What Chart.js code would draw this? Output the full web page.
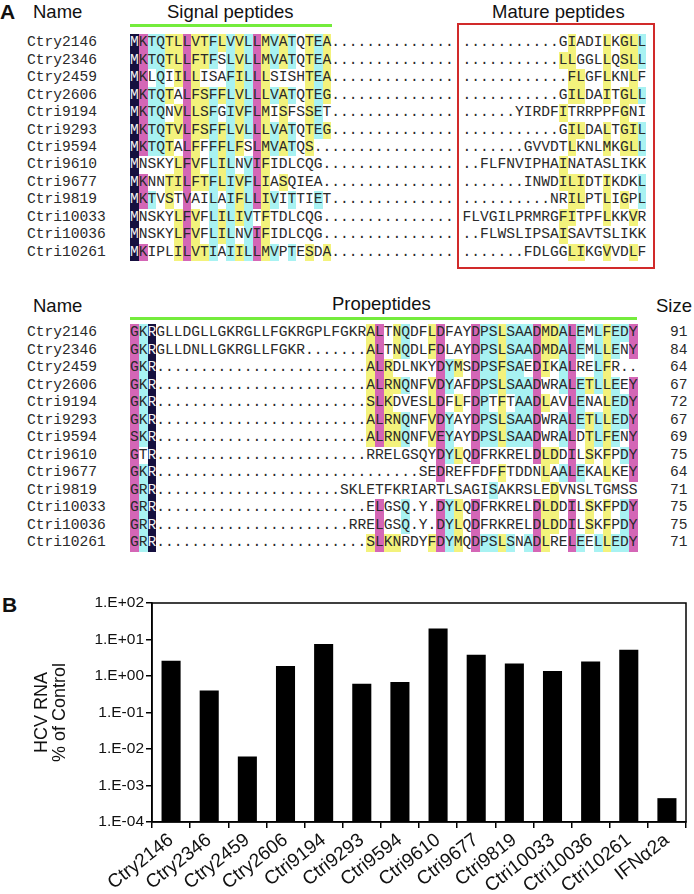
<!DOCTYPE html>
<html>
<head>
<meta charset="utf-8">
<script src="https://cdn.jsdelivr.net/npm/chart.js@4.4.1/dist/chart.umd.min.js"></script>
<style>
html, body { margin: 0; padding: 0; background: #fff; }
#page { position: relative; width: 694px; height: 894px; overflow: hidden; font-family: "Liberation Sans", Arial, sans-serif; color: #111; }
.lbl { position: absolute; font-size: 18.5px; line-height: 1; white-space: nowrap; }
.panel { position: absolute; font-size: 21px; font-weight: bold; line-height: 1; }
.mono { position: absolute; font-family: "Liberation Mono", monospace; font-size: 14.6px; line-height: 17.5px; height: 17.5px; color: #2a2a2a; white-space: nowrap; }
.cell { position: absolute; top: 0; width: 8.75px; height: 17.5px; text-align: center; }
.bar { position: absolute; height: 3px; background: #74ec3c; }
#box { position: absolute; left: 457px; top: 23px; width: 194px; height: 242px; border: 2.5px solid #d12a2a; }
#chartB { position: absolute; left: 0; top: 560px; }
</style>
</head>
<body>
<div id="page">
  <div class="panel" style="left:0px;top:1px;">A</div>
  <div class="lbl" style="left:33px;top:3px;">Name</div>
  <div class="lbl" style="left:167px;top:3px;">Signal peptides</div>
  <div class="lbl" style="left:492px;top:3px;">Mature peptides</div>
  <div class="bar" style="left:130px;top:24px;width:202px;"></div>
  <div id="box"></div>

  <div class="lbl" style="left:33px;top:297px;">Name</div>
  <div class="lbl" style="left:332px;top:295px;">Propeptides</div>
  <div class="lbl" style="left:656px;top:297px;">Size</div>
  <div class="bar" style="left:130px;top:317px;width:507px;"></div>

  <div class="panel" style="left:2px;top:594px;">B</div>
  <canvas id="chartB" width="694" height="334"></canvas>
</div>
<script>
// ---- panel A: alignment ----
const seqNames = ['Ctry2146', 'Ctry2346', 'Ctry2459', 'Ctry2606', 'Ctri9194', 'Ctri9293', 'Ctri9594',
  'Ctri9610', 'Ctri9677', 'Ctri9819', 'Ctri10033', 'Ctri10036', 'Ctri10261'];
const signalSeqs = [
  'MKTQTLLVTFLVVLLMVATQTEA',
  'MKTQTLLFTFSLVLLMVATQTEA',
  'MKLQIILLISAFILLLSISHTEA',
  'MKTQTALFSFFLVLLLVATQTEG',
  'MKTQNVLLSFGIVFLMISFSSET',
  'MKTQTVLFSFFLVLLLVATQTEG',
  'MKTQTALFFFFLFSLMVATQS',
  'MNSKYLFVFLILNVIFIDLCQG',
  'MKNNTILFTFLIVFLIASQIEA',
  'MKTVSTVAILAIFLLIVITTIET',
  'MNSKYLFVFLILIVTFTDLCQG',
  'MNSKYLFVFLILNVIFIDLCQG',
  'MKIPLILVTIAIILLMVPTESDA'
];
const matureSeqs = [
  '...........GIADILKGLL',
  '...........LLGGLLQSLL',
  '............FLGFLKNLF',
  '...........GILDAITGLL',
  '......YIRDFITRRPPFGNI',
  '...........GILDALTGIL',
  '.......GVVDTLKNLMKGLL',
  '..FLFNVIPHAINATASLIKK',
  '.......INWDILIDTIKDKL',
  '..........NRILPTLIGPL',
  'FLVGILPRMRGFITPFLKKVR',
  '..FLWSLIPSAISAVTSLIKK',
  '.......FDLGGLIKGVVDLF'
];
const propepHeads = ['GKR', 'GKR', 'GKR', 'GKR', 'GKR', 'GKR', 'SKR', 'GTR', 'GKR', 'GRR', 'GRR', 'GRR', 'GRR'];
const propepTails = [
  'GLLDGLLGKRGLLFGKRGPLFGKRALTNQDFLDFAYDPSLSAADMDALEMLFEDY',
  'GLLDNLLGKRGLLFGKR.......ALTNQDLFDLAYDPSLSAADMDALEMLLENY',
  'ALRDLNKYDYMSDPSFSAEDIKALRELFR..',
  'ALRNQNFVDYAFDPSLSAADWRALETLLEEY',
  'SLKDVESLDFLFDPTFTAADLAVLENALEDY',
  'ALRNQNFVDYAYDPSLSAADWRALETLLEDY',
  'ALRNQNFVEYAYDPSLSAADWRALDTLFENY',
  'RRELGSQYDYLQDFRKRELDLDDILSKFPDY',
  'SEDREFFDFFTDDNLAALEKALKEY',
  'SKLETFKRIARTLSAGISAKRSLEDVNSLTGMSS',
  'ELGSQ.Y.DYLQDFRKRELDLDDILSKFPDY',
  'RRELGSQ.Y.DYLQDFRKRELDLDDILSKFPDY',
  'SLKNRDYFDYMQDPSLSNADLRELEELLEDY'
];
const sizes = [91, 84, 64, 67, 72, 67, 69, 75, 64, 71, 75, 75, 71];

const shadeColors = { navy: '#16103f', mag: '#d466b6', cyan: '#a8f2f2', yel: '#f3f27c' };
const groups = ['KR', 'DE', 'NQ', 'ST', 'ILVMF', 'YW', 'AGS'];

function groupOf(ch) {
  return groups.find(g => g.includes(ch)) || ch;
}

// conservation shading, column by column
function shadeBlock(rows) {
  const n = rows.length;
  const len = Math.max(...rows.map(r => r.length));
  const shade = rows.map(() => []);
  for (let c = 0; c < len; c++) {
    let counts = {};
    rows.forEach(r => {
      let ch = r[c];
      if (ch && /[A-Z]/.test(ch)) counts[ch] = (counts[ch] || 0) + 1;
    });
    let top = null, nId = 0;
    for (let k in counts) if (counts[k] > nId) { nId = counts[k]; top = k; }
    if (!top) continue;
    let g = groupOf(top);
    let nTopG = 0;
    for (let k in counts) if (g.includes(k)) nTopG += counts[k];
    let bestG = null, nBest = 0;
    groups.forEach(gr => {
      let s = 0;
      for (let k in counts) if (gr.includes(k)) s += counts[k];
      if (s > nBest) { nBest = s; bestG = gr; }
    });
    let level = null, set = top;
    if (nId === n) { level = 'navy'; }
    else if (nId >= 9) { level = 'mag'; if (nTopG >= 12) set = g; }
    else if (nId >= 7) { level = 'cyan'; if (nTopG >= 11) set = g; }
    else if (nBest >= 6) { level = 'yel'; set = bestG; }
    if (!level) continue;
    rows.forEach((r, i) => { if (r[c] && set.includes(r[c])) shade[i][c] = level; });
  }
  return shade;
}

const page = document.getElementById('page');

function drawRow(text, shade, x0, yc) {
  let row = document.createElement('div');
  row.className = 'mono';
  row.style.left = x0 + 'px';
  row.style.top = (yc - 8.75) + 'px';
  for (let c = 0; c < text.length; c++) {
    if (text[c] === ' ') continue;
    let s = document.createElement('span');
    s.className = 'cell';
    s.style.left = (c * 8.75) + 'px';
    s.textContent = text[c];
    let lv = shade[c];
    if (lv) {
      s.style.background = shadeColors[lv];
      if (lv === 'navy') s.style.color = '#f4f4f4';
    }
    row.appendChild(s);
  }
  page.appendChild(row);
}

function drawName(text, x, yc) {
  let d = document.createElement('div');
  d.className = 'mono';
  d.style.left = x + 'px';
  d.style.top = (yc - 8.75) + 'px';
  d.textContent = text;
  page.appendChild(d);
}

// top block: signal (37 cols), a blank column, then mature (21 cols)
let topRows = signalSeqs.map((s, i) => s + '.'.repeat(37 - s.length) + ' ' + matureSeqs[i]);
let topShade = shadeBlock(topRows);
topRows.forEach((r, i) => {
  let yc = 43 + 17.45 * i;
  drawName(seqNames[i], 27, yc);
  drawRow(r, topShade[i], 130, yc);
});

// bottom block: propeptides, 58 cols
let botRows = propepHeads.map((h, i) => h + '.'.repeat(58 - 3 - propepTails[i].length) + propepTails[i]);
let botShade = shadeBlock(botRows);
botRows.forEach((r, i) => {
  let yc = 333 + 17.5 * i;
  drawName(seqNames[i], 27, yc);
  drawRow(r, botShade[i], 130, yc);
  drawName(String(sizes[i]), 670, yc);
});

// ---- panel B: bar chart ----
const categories = ['Ctry2146', 'Ctry2346', 'Ctry2459', 'Ctry2606', 'Ctri9194', 'Ctri9293', 'Ctri9594',
  'Ctri9610', 'Ctri9677', 'Ctri9819', 'Ctri10033', 'Ctri10036', 'Ctri10261', 'IFNα2a'];
const hcvRna = [2.6, 0.40, 0.0062, 1.88, 7.5, 0.61, 0.685, 20, 3.85, 2.2, 1.37, 2.5, 5.2, 0.00045];
const tickValues = [1e-4, 1e-3, 1e-2, 1e-1, 1, 10, 100];
const tickLabels = ['1.E-04', '1.E-03', '1.E-02', '1.E-01', '1.E+00', '1.E+01', '1.E+02'];

const frame = {
  id: 'frame',
  afterDraw(chart) {
    const { ctx, chartArea: a } = chart;
    ctx.save();
    ctx.strokeStyle = '#000';
    ctx.lineWidth = 1.5;
    ctx.strokeRect(a.left, a.top, a.right - a.left, a.bottom - a.top);
    ctx.restore();
  }
};

let ctx = document.getElementById('chartB').getContext('2d');
new Chart(ctx, {
  type: 'bar',
  data: {
    labels: categories,
    datasets: [{
      data: hcvRna,
      backgroundColor: '#000',
      borderWidth: 0,
      barPercentage: 0.5,
      categoryPercentage: 1
    }]
  },
  options: {
    responsive: false,
    animation: false,
    devicePixelRatio: 1,
    layout: { padding: { top: 43, right: 8, left: 0, bottom: 0 } },
    plugins: { legend: { display: false }, tooltip: { enabled: false } },
    scales: {
      x: {
        grid: { drawOnChartArea: false, tickLength: 6, color: '#000', lineWidth: 1.5, offset: true },
        border: { color: '#000', width: 1.5 },
        ticks: {
          color: '#111', font: { family: 'Liberation Sans', size: 19 },
          minRotation: 38, maxRotation: 38, autoSkip: false, padding: 1
        },
        afterFit(s) { s.height = 72; }
      },
      y: {
        type: 'logarithmic',
        min: 1e-4,
        max: 100,
        afterBuildTicks(s) { s.ticks = tickValues.map(v => ({ value: v })); },
        grid: { drawOnChartArea: false, tickLength: 6, color: '#000', lineWidth: 1.5 },
        border: { color: '#000', width: 1.5 },
        ticks: {
          color: '#111', font: { family: 'Liberation Sans', size: 15.5 }, padding: 2,
          callback: (v, i) => tickLabels[i]
        },
        title: {
          display: true, text: ['HCV RNA', '% of Control'], color: '#111',
          font: { family: 'Liberation Sans', size: 18, lineHeight: 1.0 },
          padding: { top: 33, bottom: 0 }
        },
        afterFit(s) { s.width = 152; }
      }
    }
  },
  plugins: [frame]
});
</script>
</body>
</html>
